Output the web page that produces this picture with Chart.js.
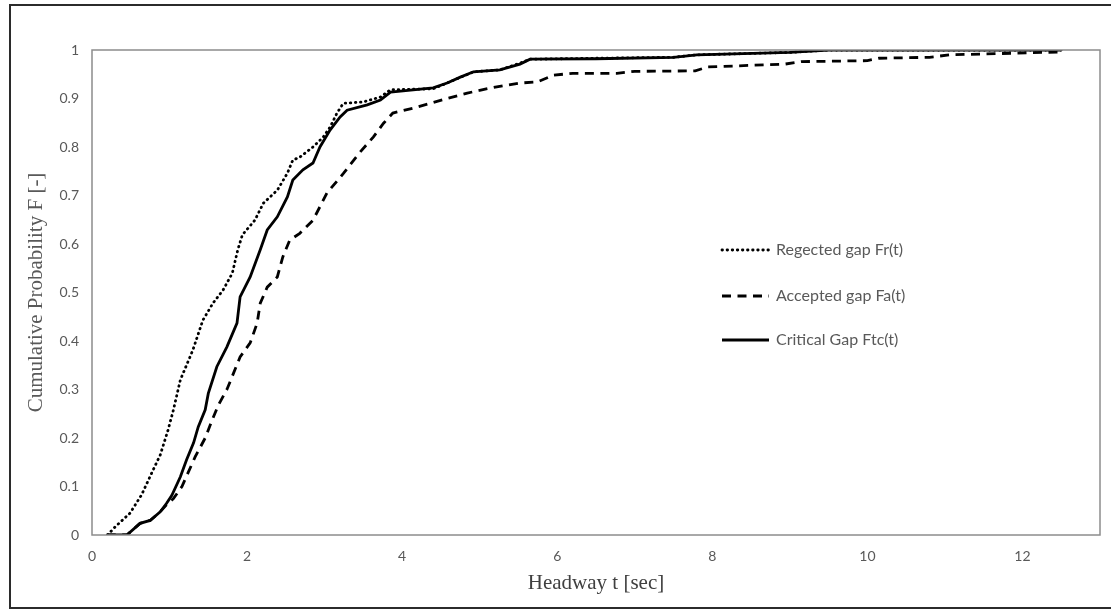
<!DOCTYPE html>
<html>
<head>
<meta charset="utf-8">
<script src="https://cdn.jsdelivr.net/npm/chart.js@4.4.1/dist/chart.umd.min.js"></script>
<style>
  html, body { margin: 0; padding: 0; background: #fff; }
  #wrap { position: relative; width: 1111px; height: 612px; }
</style>
</head>
<body>
<div id="wrap"><canvas id="c" width="1111" height="612"></canvas></div>
<script>
// ---- data ----
const seriesNames = ['Regected gap Fr(t)', 'Accepted gap Fa(t)', 'Critical Gap Ftc(t)'];
const xTicks = [0, 2, 4, 6, 8, 10, 12];
const yTicks = [0, 0.1, 0.2, 0.3, 0.4, 0.5, 0.6, 0.7, 0.8, 0.9, 1];

const rejX = [0.2, 0.3, 0.49, 0.64, 0.77, 0.88, 0.98, 1.05, 1.14, 1.30, 1.43, 1.56, 1.69, 1.81, 1.88, 1.94, 2.10, 2.21, 2.39, 2.52, 2.59, 2.68, 2.85, 2.98, 3.07, 3.16, 3.24, 3.50, 3.72, 3.85, 4.40, 4.58, 4.92, 5.26, 5.52, 5.65, 6.5, 7.5, 7.8, 9.0, 9.5, 12.5];
const rejY = [0, 0.017, 0.045, 0.083, 0.128, 0.165, 0.216, 0.258, 0.32, 0.381, 0.443, 0.478, 0.505, 0.54, 0.588, 0.619, 0.649, 0.684, 0.711, 0.746, 0.773, 0.779, 0.80, 0.82, 0.841, 0.87, 0.89, 0.893, 0.903, 0.918, 0.92, 0.932, 0.955, 0.959, 0.973, 0.981, 0.983, 0.985, 0.99, 0.995, 1.0, 1.0];

const accX = [0.19, 0.45, 0.62, 0.75, 0.88, 0.96, 1.05, 1.16, 1.33, 1.46, 1.55, 1.63, 1.74, 1.91, 2.04, 2.13, 2.17, 2.26, 2.39, 2.46, 2.55, 2.68, 2.85, 3.03, 3.24, 3.46, 3.63, 3.76, 3.88, 4.14, 4.36, 4.58, 4.84, 5.0, 5.22, 5.52, 5.74, 5.95, 6.2, 6.77, 7.0, 7.78, 7.94, 8.94, 9.15, 10.0, 10.15, 10.8, 11.06, 12.5];
const accY = [0, 0, 0.024, 0.03, 0.048, 0.062, 0.075, 0.1, 0.161, 0.2, 0.237, 0.268, 0.3, 0.367, 0.396, 0.437, 0.478, 0.511, 0.532, 0.573, 0.608, 0.622, 0.649, 0.705, 0.745, 0.79, 0.821, 0.849, 0.87, 0.88, 0.89, 0.90, 0.911, 0.917, 0.924, 0.932, 0.934, 0.948, 0.952, 0.952, 0.956, 0.957, 0.965, 0.971, 0.976, 0.978, 0.983, 0.985, 0.99, 0.996];

const critX = [0.19, 0.45, 0.62, 0.75, 0.88, 0.96, 1.03, 1.14, 1.22, 1.31, 1.37, 1.46, 1.50, 1.61, 1.74, 1.87, 1.91, 2.04, 2.17, 2.26, 2.39, 2.52, 2.59, 2.72, 2.85, 2.94, 3.07, 3.20, 3.29, 3.55, 3.72, 3.85, 4.40, 4.58, 4.75, 4.92, 5.26, 5.52, 5.65, 6.5, 7.5, 7.8, 9.0, 9.5, 12.5];
const critY = [0, 0, 0.024, 0.03, 0.048, 0.065, 0.082, 0.12, 0.155, 0.19, 0.223, 0.258, 0.292, 0.347, 0.388, 0.437, 0.491, 0.532, 0.588, 0.629, 0.656, 0.697, 0.732, 0.753, 0.767, 0.80, 0.835, 0.862, 0.876, 0.887, 0.897, 0.913, 0.922, 0.932, 0.944, 0.955, 0.959, 0.971, 0.981, 0.982, 0.985, 0.99, 0.995, 1.0, 1.0];

const xTitle = 'Headway t [sec]';
const yTitle = 'Cumulative Probability F [-]';

// ---- build ----
const pts = (xs, ys) => xs.map((x, i) => ({ x: x, y: ys[i] }));

const frame = {
  id: 'frame',
  beforeDraw(chart) {
    const ctx = chart.ctx;
    ctx.save();
    ctx.strokeStyle = '#2b2b2b';
    ctx.lineWidth = 2;
    ctx.strokeRect(10, 5, 1120, 603);
    ctx.restore();
  },
  afterDatasetsDraw(chart) {
    const a = chart.chartArea, ctx = chart.ctx;
    ctx.save();
    ctx.strokeStyle = '#8c8c8c';
    ctx.lineWidth = 1.5;
    ctx.strokeRect(a.left, a.top, a.right - a.left, a.bottom - a.top);
    ctx.restore();
  },
  afterDraw(chart) {
    // legend inside the plot area
    const ctx = chart.ctx, a = chart.chartArea;
    const x0 = a.left + 630, x1 = x0 + 47;
    const rows = [a.top + 200, a.top + 246, a.top + 290];
    ctx.save();
    chart.data.datasets.forEach((ds, i) => {
      const y = rows[i];
      ctx.beginPath();
      ctx.setLineDash(ds.borderDash || []);
      ctx.lineCap = ds.borderCapStyle || 'butt';
      ctx.lineWidth = ds.borderWidth;
      ctx.strokeStyle = ds.borderColor;
      ctx.moveTo(x0, y);
      ctx.lineTo(x1, y);
      ctx.stroke();
      ctx.setLineDash([]);
      ctx.fillStyle = '#595959';
      ctx.font = '16px Lato, "Open Sans", sans-serif';
      ctx.textBaseline = 'middle';
      ctx.textAlign = 'left';
      ctx.fillText(ds.label, x1 + 7, y);
    });
    ctx.restore();
  }
};

new Chart(document.getElementById('c'), {
  type: 'scatter',
  data: {
    datasets: [
      { label: seriesNames[0], data: pts(rejX, rejY), showLine: true, borderColor: '#000', borderWidth: 2.8, borderDash: [0.5, 4.6], borderCapStyle: 'round', pointRadius: 0, tension: 0, fill: false },
      { label: seriesNames[1], data: pts(accX, accY), showLine: true, borderColor: '#000', borderWidth: 2.8, borderDash: [9, 6.5], pointRadius: 0, tension: 0, fill: false },
      { label: seriesNames[2], data: pts(critX, critY), showLine: true, borderColor: '#000', borderWidth: 2.8, pointRadius: 0, tension: 0, fill: false }
    ]
  },
  options: {
    responsive: false,
    animation: false,
    layout: { padding: { left: 0, top: 50, right: 11, bottom: 0 } },
    plugins: { legend: { display: false }, tooltip: { enabled: false } },
    scales: {
      x: {
        type: 'linear', min: 0, max: 13,
        grid: { display: false, drawTicks: false },
        border: { display: false },
        afterBuildTicks(s) { s.ticks = xTicks.map(v => ({ value: v })); },
        afterFit(s) { s.height = 77; },
        ticks: { padding: 13, color: '#595959', font: { family: 'Lato, "Open Sans", sans-serif', size: 14 }, maxRotation: 0 },
        title: { display: true, text: xTitle, color: '#404040', font: { family: '"Liberation Serif", "DejaVu Serif", serif', size: 21 }, padding: { top: 0, bottom: 16 } }
      },
      y: {
        type: 'linear', min: 0, max: 1,
        grid: { display: false, drawTicks: false },
        border: { display: false },
        afterBuildTicks(s) { s.ticks = yTicks.map(v => ({ value: v })); },
        afterFit(s) { s.width = 92; },
        ticks: { padding: 13, color: '#595959', font: { family: 'Lato, "Open Sans", sans-serif', size: 14 }, callback: v => String(Number(v.toFixed(1))) },
        title: { display: true, text: yTitle, color: '#595959', font: { family: '"Liberation Serif", "DejaVu Serif", serif', size: 21 }, padding: { top: 24, bottom: 0 } }
      }
    }
  },
  plugins: [frame]
});
</script>
</body>
</html>
